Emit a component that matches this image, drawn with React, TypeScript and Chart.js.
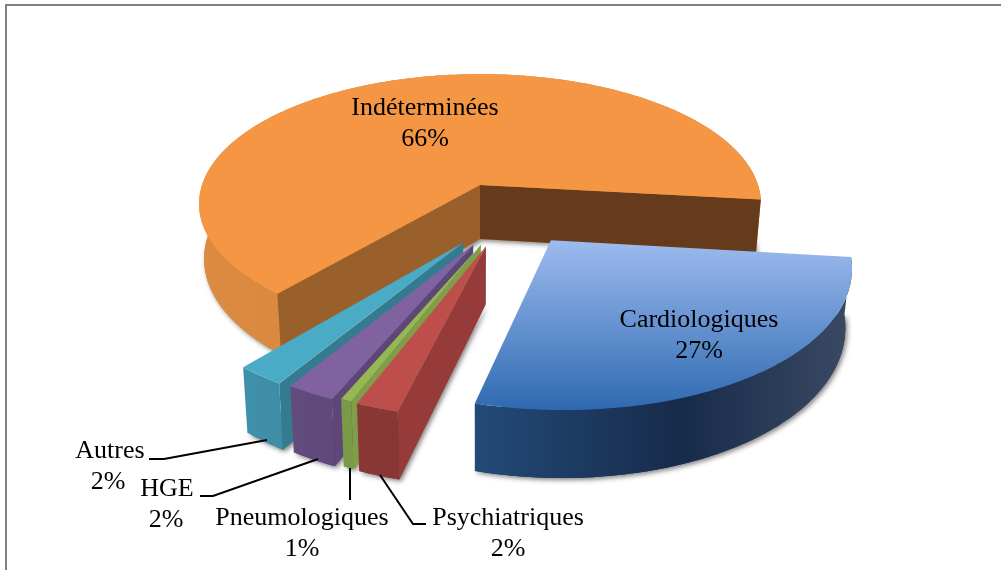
import React, { useEffect, useRef } from "react";
import { Chart, registerables } from "chart.js";

Chart.register(...registerables);

// ---- data (order follows the pie, clockwise)
const categories = ["Cardiologiques", "Psychiatriques", "Pneumologiques", "HGE", "Autres", "Indéterminées"];
const shares = [27.3, 2, 0.52, 2.3, 2.3, 65.58];

// ---- styling
const topLight = ["#9dbbef", "#bd4e4b", "#96b852", "#8062a0", "#4aabc6", "#f59645"];
const topDark = ["#2e6ab1", "#bd4e4b", "#96b852", "#8062a0", "#4aabc6", "#f59645"];
const wallLeft = ["#234a78", "#8a3836", "#7a9a48", "#624b7d", "#3f90a9", "#dc8c42"];
const wallMid = ["#172b4a", "#843534", "#7a9a48", "#5e4876", "#3c88a1", "#cf8239"];
const wallRight = ["#3b4a63", "#7f3332", "#7a9a48", "#5b4674", "#39809a", "#c57a36"];
const faceAtStart = ["#1d3557", "#963b3a", "#7f9e47", "#5e4778", "#357b8f", "#99602c"];
const faceAtEnd = ["#1d3557", "#963b3a", "#7f9e47", "#5e4778", "#357b8f", "#653b1c"];
// explosion of every slice on the pie's plane, in radii
const explodeX = [0.24, 0.02, 0.003, -0.023, -0.057, 0];
const explodeY = [0.41, 0.45, 0.44, 0.44, 0.427, 0];
const drawOrder = [5, 4, 3, 2, 1, 0];

// ---- text placement (centre of the first line) and leader lines
const labelX = [699, 508, 302, 167, 110, 425];
const labelY = [320, 518, 518, 489, 451, 108];
const percentDx = [0, 0, 0, -1, -2, 0];
const leaders: number[][][] = [
  [],
  [[380, 475], [413, 524], [426, 524]],
  [[350, 468], [350, 500]],
  [[318, 459], [213, 496], [200, 496]],
  [[267, 440], [164, 459], [149, 459]],
  [],
];

const ROTATION = 96.5;
const PERSPECTIVE = 0.145;
const STRETCH_X = 278 / 185;
const STRETCH_Y = 127 / 185;
const DEPTH = 54;
const TAPER = 0.018;

const pie3d = {
  id: "pie3d",
  beforeDraw(chart: any) {
    const { ctx, width, height } = chart;
    ctx.save();
    ctx.fillStyle = "#ffffff";
    ctx.fillRect(0, 0, width, height);
    ctx.strokeStyle = "#808080";
    ctx.lineWidth = 2;
    ctx.beginPath();
    ctx.moveTo(6, height);
    ctx.lineTo(6, 5);
    ctx.lineTo(width, 5);
    ctx.stroke();
    ctx.restore();
  },
  beforeDatasetsDraw(chart: any) {
    const { ctx } = chart;
    const arcs = chart.getDatasetMeta(0).data;
    ctx.save();
    for (const i of drawOrder) {
      const arc = arcs[i];
      const R = arc.outerRadius;
      const pt = (X: number, Y: number, z: number) => {
        const w = 1 / (1 - PERSPECTIVE * Y);
        const t = 1 - TAPER * z;
        return [arc.x + X * R * STRETCH_X * w * t, arc.y + Y * R * STRETCH_Y * w + z * DEPTH * w];
      };
      const ex = explodeX[i];
      const ey = explodeY[i];
      const rim = (z: number) => {
        const out: number[][] = [];
        const steps = Math.max(2, Math.ceil(((arc.endAngle - arc.startAngle) * 180) / Math.PI));
        for (let s = 0; s <= steps; s++) {
          const a = arc.startAngle + ((arc.endAngle - arc.startAngle) * s) / steps;
          out.push(pt(ex + Math.cos(a), ey + Math.sin(a), z));
        }
        return out;
      };
      const apex0 = pt(ex, ey, 0);
      const apex1 = pt(ex, ey, 1);
      const top = rim(0);
      const bottom = rim(1);
      const poly = (points: number[][]) => {
        ctx.beginPath();
        points.forEach((p, n) => (n ? ctx.lineTo(p[0], p[1]) : ctx.moveTo(p[0], p[1])));
        ctx.closePath();
      };
      const all = [...top, ...bottom, apex0];
      const xs = all.map((p) => p[0]);
      const ys = top.concat([apex0]).map((p) => p[1]);
      const minX = Math.min(...xs);
      const maxX = Math.max(...xs);

      // soft shadow under the slab
      ctx.save();
      ctx.shadowColor = "rgba(0,0,0,0.5)";
      ctx.shadowBlur = 5;
      ctx.shadowOffsetX = 2;
      ctx.shadowOffsetY = 2;
      ctx.fillStyle = wallMid[i];
      poly([apex1, ...bottom]);
      ctx.fill();
      ctx.restore();

      // outer wall
      const wallGrad = ctx.createLinearGradient(minX, 0, maxX, 0);
      wallGrad.addColorStop(0, wallLeft[i]);
      wallGrad.addColorStop(0.55, wallMid[i]);
      wallGrad.addColorStop(1, wallRight[i]);
      ctx.fillStyle = wallGrad;
      poly([...top, ...bottom.slice().reverse()]);
      ctx.fill();

      // cut faces, only those the viewer can see
      const inner = top[Math.floor(top.length / 2)];
      const above = (p: number[], q: number[]) => {
        const side = (x: number, y: number) => (q[0] - p[0]) * (y - p[1]) - (q[1] - p[1]) * (x - p[0]);
        return side(inner[0], inner[1]) * side(inner[0], inner[1] + 5000) < 0 || side(inner[0], inner[1]) * side((p[0] + q[0]) / 2, -5000) > 0;
      };
      const faces: [number[], number[], string][] = [
        [top[0], bottom[0], faceAtStart[i]],
        [top[top.length - 1], bottom[bottom.length - 1], faceAtEnd[i]],
      ];
      for (const [t, b, colour] of faces) {
        if (!above(apex0, t)) continue;
        ctx.fillStyle = colour;
        poly([apex0, t, b, apex1]);
        ctx.fill();
      }

      // top
      const topGrad = ctx.createLinearGradient(0, Math.min(...ys), 0, Math.max(...ys));
      topGrad.addColorStop(0, topLight[i]);
      topGrad.addColorStop(1, topDark[i]);
      ctx.fillStyle = topGrad;
      poly([apex0, ...top]);
      ctx.fill();
    }
    ctx.restore();
    return false;
  },
  afterDraw(chart: any) {
    const { ctx } = chart;
    const values: number[] = chart.data.datasets[0].data;
    const total = values.reduce((a, b) => a + b, 0);
    ctx.save();
    ctx.strokeStyle = "#000000";
    ctx.lineWidth = 2;
    leaders.forEach((line) => {
      if (!line.length) return;
      ctx.beginPath();
      line.forEach((p, n) => (n ? ctx.lineTo(p[0], p[1]) : ctx.moveTo(p[0], p[1])));
      ctx.stroke();
    });
    ctx.fillStyle = "#000000";
    ctx.font = '26px "Liberation Serif"';
    ctx.textAlign = "center";
    ctx.textBaseline = "middle";
    chart.data.labels.forEach((label: string, i: number) => {
      ctx.fillText(label, labelX[i], labelY[i]);
      ctx.fillText(`${Math.round((values[i] / total) * 100)}%`, labelX[i] + percentDx[i], labelY[i] + 31);
    });
    ctx.restore();
  },
};

export default function App() {
  const ref = useRef<HTMLCanvasElement>(null);
  useEffect(() => {
    const chart = new Chart(ref.current as HTMLCanvasElement, {
      type: "pie",
      data: {
        labels: categories,
        datasets: [{ data: shares, backgroundColor: topLight, borderWidth: 0 }],
      },
      options: {
        responsive: false,
        animation: false,
        events: [],
        rotation: ROTATION,
        layout: { padding: { left: 0, right: 41, top: 0, bottom: 200 } },
        plugins: { legend: { display: false }, tooltip: { enabled: false } },
      },
      plugins: [pie3d],
    } as any);
    return () => chart.destroy();
  }, []);
  return (
    <div style={{ position: "absolute", left: 0, top: 0, width: 1001, height: 570, overflow: "hidden" }}>
      <canvas ref={ref} width={1001} height={570} style={{ display: "block" }} />
    </div>
  );
}
